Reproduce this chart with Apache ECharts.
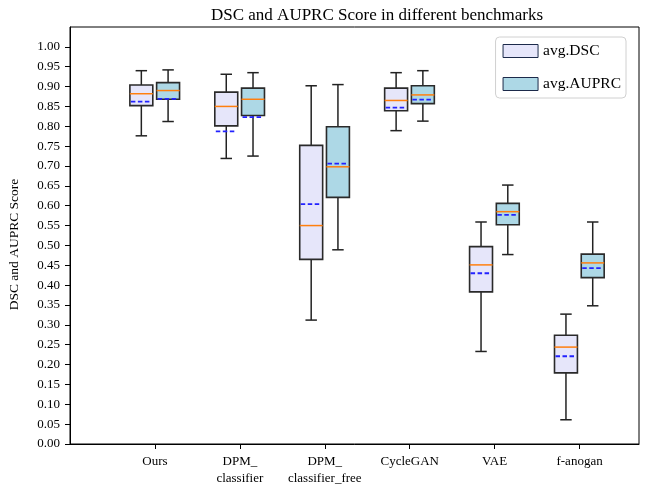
<!DOCTYPE html>
<html>
<head>
<meta charset="utf-8">
<script src="https://cdn.jsdelivr.net/npm/echarts@6/dist/echarts.min.js"></script>
<style>
  html, body { margin: 0; padding: 0; background: #fff; }
  #chart { width: 654px; height: 485px; }
</style>
</head>
<body>
<div id="chart"></div>
<script>
// 数据: [下须, Q1, 中位数, Q3, 上须]
var categories = ['Ours', 'DPM_\nclassifier', 'DPM_\nclassifier_free', 'CycleGAN', 'VAE', 'f-anogan'];
var positions = [1, 2, 3, 4, 5, 6];
var dscStats = [
    [0.776, 0.852, 0.882, 0.904, 0.940],
    [0.719, 0.801, 0.850, 0.886, 0.931],
    [0.312, 0.465, 0.550, 0.752, 0.902],
    [0.789, 0.839, 0.865, 0.896, 0.935],
    [0.233, 0.383, 0.451, 0.497, 0.559],
    [0.061, 0.179, 0.244, 0.274, 0.327]
];
var dscMean = [0.862, 0.787, 0.604, 0.847, 0.430, 0.221];
var auprcStats = [
    [0.812, 0.868, 0.890, 0.910, 0.942],
    [0.725, 0.827, 0.868, 0.896, 0.935],
    [0.489, 0.621, 0.698, 0.799, 0.905],
    [0.813, 0.857, 0.879, 0.902, 0.940],
    [0.477, 0.552, 0.585, 0.606, 0.652],
    [0.348, 0.419, 0.456, 0.478, 0.559]
];
var auprcMean = [0.869, 0.823, 0.706, 0.867, 0.577, 0.443];
var yTicks = [];
for (var k = 0; k <= 20; k++) yTicks.push(+(k * 0.05).toFixed(2));

var FONT = '"Liberation Serif", "DejaVu Serif", serif';
var boxW = 0.27;

function buildData(stats, means, offset) {
    return stats.map(function (s, i) {
        return [positions[i] + offset].concat(s).concat([means[i]]);
    });
}

function renderBox(fill) {
    return function (params, api) {
        var x = api.value(0);
        var low = api.coord([x, api.value(1)]);
        var q1 = api.coord([x, api.value(2)]);
        var med = api.coord([x, api.value(3)]);
        var q3 = api.coord([x, api.value(4)]);
        var high = api.coord([x, api.value(5)]);
        var mean = api.coord([x, api.value(6)]);
        var w = api.size([boxW, 0])[0];
        var cx = low[0];
        var l = cx - w / 2, r = cx + w / 2;
        var cap = w / 4;
        var lineStyle = { stroke: '#222', lineWidth: 1.5 };
        return {
            type: 'group',
            children: [
                { type: 'line', shape: { x1: cx, y1: q3[1], x2: cx, y2: high[1] }, style: lineStyle },
                { type: 'line', shape: { x1: cx, y1: q1[1], x2: cx, y2: low[1] }, style: lineStyle },
                { type: 'line', shape: { x1: cx - cap, y1: high[1], x2: cx + cap, y2: high[1] }, style: lineStyle },
                { type: 'line', shape: { x1: cx - cap, y1: low[1], x2: cx + cap, y2: low[1] }, style: lineStyle },
                { type: 'rect', shape: { x: l, y: q3[1], width: w, height: q1[1] - q3[1] },
                  style: { fill: fill, stroke: '#2a2a2a', lineWidth: 1.6 } },
                { type: 'line', shape: { x1: l, y1: med[1], x2: r, y2: med[1] },
                  style: { stroke: '#ff7f0e', lineWidth: 1.5 } },
                { type: 'line', shape: { x1: l + 1, y1: mean[1], x2: r - 1, y2: mean[1] },
                  style: { stroke: '#2222ff', lineWidth: 1.8, lineDash: [4.5, 2.5] } }
            ]
        };
    };
}

var myChart = echarts.init(document.getElementById('chart'));
myChart.setOption({
    animation: false,
    title: {
        text: 'DSC and AUPRC Score in different benchmarks',
        left: 206,
        top: 2,
        textStyle: { fontFamily: FONT, fontSize: 17, fontWeight: 'normal', color: '#000' }
    },
    legend: {
        orient: 'vertical',
        right: 28,
        top: 37,
        padding: [6, 5, 6, 7],
        itemGap: 17,
        itemWidth: 35,
        itemHeight: 13,
        backgroundColor: '#fff',
        borderColor: '#d0d0d0',
        borderWidth: 1,
        borderRadius: 4,
        textStyle: { fontFamily: FONT, fontSize: 15.5, color: '#000' },
        data: [
            { name: 'avg.DSC', icon: 'rect', itemStyle: { color: '#e6e6fa', borderColor: '#1c2a4a', borderWidth: 1 } },
            { name: 'avg.AUPRC', icon: 'rect', itemStyle: { color: '#add8e6', borderColor: '#1c2a4a', borderWidth: 1 } }
        ]
    },
    grid: {
        left: 70, right: 15, top: 27, bottom: 41,
        outerBoundsMode: 'none',
        containLabel: false,
        show: true, borderColor: '#000', borderWidth: 1
    },
    xAxis: {
        type: 'value',
        min: 0,
        max: 6.7,
        splitLine: { show: false },
        axisLine: { show: true, lineStyle: { color: '#000', width: 1 } },
        axisTick: { show: true, length: 5, lineStyle: { color: '#000' }, customValues: positions },
        axisLabel: {
            customValues: positions,
            margin: 9,
            fontFamily: FONT, fontSize: 13, color: '#000', lineHeight: 17,
            formatter: function (v) { return categories[Math.round(v) - 1] || ''; }
        }
    },
    yAxis: {
        type: 'value',
        min: 0,
        max: 1.05,
        name: 'DSC and AUPRC Score',
        nameLocation: 'middle',
        nameGap: 49,
        nameTextStyle: { fontFamily: FONT, fontSize: 13.5, color: '#000', padding: [0, 18, 0, 0] },
        splitLine: { show: false },
        axisLine: { show: true, lineStyle: { color: '#000', width: 1 } },
        axisTick: { show: true, length: 5, lineStyle: { color: '#000' }, customValues: yTicks },
        axisLabel: {
            customValues: yTicks,
            margin: 10,
            fontFamily: FONT, fontSize: 13, color: '#000',
            formatter: function (v) { return v.toFixed(2); }
        }
    },
    series: [
        {
            name: 'avg.DSC',
            type: 'custom',
            itemStyle: { color: '#e6e6fa' },
            encode: { x: 0, y: [1, 2, 3, 4, 5, 6] },
            renderItem: renderBox('#e6e6fa'),
            data: buildData(dscStats, dscMean, -0.16)
        },
        {
            name: 'avg.AUPRC',
            type: 'custom',
            itemStyle: { color: '#add8e6' },
            encode: { x: 0, y: [1, 2, 3, 4, 5, 6] },
            renderItem: renderBox('#add8e6'),
            data: buildData(auprcStats, auprcMean, 0.155)
        }
    ]
});
window.onresize = myChart.resize;
</script>
</body>
</html>
